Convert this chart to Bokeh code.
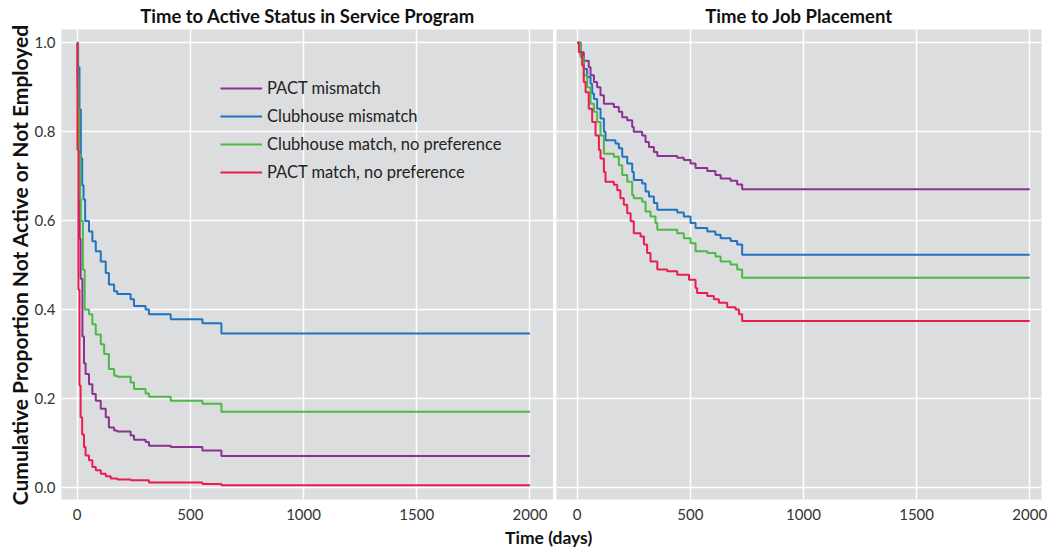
from bokeh.plotting import figure
from bokeh.layouts import column, row
from bokeh.models import FixedTicker, Range1d
from bokeh.embed import file_html
from bokeh.resources import INLINE
from bokeh.core.properties import value

# ---------------- data ----------------
TITLE_LEFT = "Time to Active Status in Service Program"
TITLE_RIGHT = "Time to Job Placement"
Y_LABEL = "Cumulative Proportion Not Active or Not Employed"
X_LABEL = "Time (days)"

SERIES_NAMES = ["PACT mismatch", "Clubhouse mismatch",
                "Clubhouse match, no preference", "PACT match, no preference"]

X_TICKS = [0, 500, 1000, 1500, 2000]
X_TICK_LABELS = ["0", "500", "1000", "1500", "2000"]
Y_TICKS = [0.0, 0.2, 0.4, 0.6, 0.8, 1.0]
Y_TICK_LABELS = ["0.0", "0.2", "0.4", "0.6", "0.8", "1.0"]

# Left panel: time to active status
active_pact_mis_t = [0, 2, 5, 8, 11, 15, 23, 30, 37, 52, 67, 82, 104, 126, 140, 163, 177, 236, 251, 302, 317, 413, 553, 637, 2000]
active_pact_mis_s = [1.0, 0.9, 0.8, 0.68, 0.56, 0.47, 0.34, 0.28, 0.256, 0.233, 0.211, 0.196, 0.178, 0.159, 0.136, 0.129, 0.127, 0.118, 0.108, 0.103, 0.095, 0.092, 0.084, 0.072, 0.072]

active_club_mis_t = [0, 4, 10, 16, 22, 28, 35, 52, 67, 82, 104, 126, 140, 163, 177, 236, 251, 302, 317, 413, 553, 637, 2000]
active_club_mis_s = [1.0, 0.945, 0.85, 0.74, 0.68, 0.648, 0.6, 0.576, 0.554, 0.532, 0.509, 0.483, 0.457, 0.442, 0.436, 0.424, 0.409, 0.401, 0.39, 0.379, 0.37, 0.347, 0.347]

active_club_match_t = [0, 2, 5, 9, 13, 16, 25, 33, 52, 67, 82, 104, 119, 140, 163, 177, 236, 251, 302, 317, 413, 553, 637, 2000]
active_club_match_s = [1.0, 0.92, 0.85, 0.75, 0.65, 0.6, 0.49, 0.401, 0.39, 0.368, 0.345, 0.323, 0.301, 0.267, 0.252, 0.25, 0.237, 0.222, 0.212, 0.205, 0.196, 0.189, 0.171, 0.171]

active_pact_match_t = [0, 1, 5, 10, 15, 22, 30, 37, 52, 67, 82, 104, 126, 148, 177, 236, 317, 553, 637, 2000]
active_pact_match_s = [1.0, 0.76, 0.446, 0.23, 0.159, 0.12, 0.092, 0.073, 0.062, 0.047, 0.04, 0.032, 0.026, 0.021, 0.019, 0.017, 0.012, 0.009, 0.006, 0.006]

# Right panel: time to job placement
job_pact_mis_t = [0, 15, 29, 51, 59, 74, 88, 103, 118, 162, 184, 199, 221, 243, 250, 287, 302, 317, 339, 354, 442, 471, 501, 523, 575, 611, 634, 678, 707, 729, 2000]
job_pact_mis_s = [1.0, 0.979, 0.96, 0.945, 0.927, 0.912, 0.9, 0.882, 0.863, 0.856, 0.845, 0.833, 0.826, 0.811, 0.8, 0.792, 0.777, 0.766, 0.755, 0.746, 0.742, 0.737, 0.729, 0.719, 0.712, 0.703, 0.695, 0.69, 0.682, 0.671, 0.671]

job_club_mis_t = [0, 15, 29, 44, 59, 66, 74, 88, 103, 118, 125, 169, 184, 199, 221, 243, 250, 287, 302, 317, 339, 354, 442, 471, 501, 523, 575, 611, 634, 678, 707, 729, 2000]
job_club_mis_s = [1.0, 0.971, 0.941, 0.923, 0.908, 0.886, 0.874, 0.852, 0.83, 0.8, 0.781, 0.774, 0.763, 0.744, 0.729, 0.71, 0.692, 0.684, 0.666, 0.655, 0.64, 0.625, 0.619, 0.61, 0.595, 0.584, 0.576, 0.569, 0.561, 0.555, 0.547, 0.524, 0.524]

job_club_match_t = [0, 15, 29, 44, 59, 74, 88, 103, 118, 162, 184, 199, 221, 243, 250, 287, 302, 324, 346, 354, 442, 471, 501, 523, 575, 611, 634, 678, 707, 729, 2000]
job_club_match_s = [1.0, 0.968, 0.927, 0.9, 0.863, 0.845, 0.822, 0.792, 0.751, 0.744, 0.725, 0.703, 0.688, 0.658, 0.651, 0.643, 0.621, 0.61, 0.595, 0.58, 0.572, 0.561, 0.55, 0.532, 0.528, 0.52, 0.509, 0.502, 0.491, 0.472, 0.472]

job_pact_match_t = [0, 7, 22, 29, 37, 51, 66, 81, 96, 103, 118, 125, 162, 177, 191, 206, 221, 236, 250, 280, 295, 309, 324, 354, 398, 442, 494, 523, 530, 575, 604, 626, 663, 700, 715, 729, 2000]
job_pact_match_s = [1.0, 0.979, 0.949, 0.912, 0.889, 0.852, 0.822, 0.792, 0.759, 0.74, 0.71, 0.688, 0.681, 0.669, 0.651, 0.636, 0.617, 0.599, 0.572, 0.565, 0.547, 0.528, 0.509, 0.491, 0.487, 0.479, 0.468, 0.449, 0.438, 0.431, 0.424, 0.416, 0.406, 0.401, 0.39, 0.375, 0.375]

COLORS = ["#8C3193", "#1F73C0", "#4DB848", "#EE1C4E"]

# ---------------- styling ----------------
FONT = "Lato"
PANEL_BG = "#DCDDDF"
TICK_COLOR = "#333333"

x_overrides = {t: l for t, l in zip(X_TICKS, X_TICK_LABELS)}
y_overrides = {t: l for t, l in zip(Y_TICKS, Y_TICK_LABELS)}


def make_panel(title, width, x_range, border_left, border_right, with_yaxis):
    p = figure(width=width, height=527,
               x_range=Range1d(*x_range), y_range=Range1d(-0.026, 1.030),
               output_backend="svg", toolbar_location=None,
               y_axis_location="left" if with_yaxis else None,
               min_border_left=border_left, min_border_right=border_right,
               min_border_top=27, min_border_bottom=28)
    p.background_fill_color = PANEL_BG
    p.border_fill_color = "white"
    p.outline_line_color = None

    p.title.text = title
    p.title.align = "center"
    p.title.text_font = FONT
    p.title.text_font_size = "18.5px"
    p.title.text_font_style = "bold"
    p.title.text_color = "#111111"
    p.title.standoff = 5

    p.xaxis.ticker = FixedTicker(ticks=X_TICKS)
    p.xaxis.major_label_overrides = x_overrides
    p.xaxis.axis_line_color = None
    p.xaxis.major_tick_line_color = None
    p.xaxis.minor_tick_line_color = None
    p.xaxis.major_tick_out = 0
    p.xaxis.major_tick_in = 0
    p.xaxis.major_label_standoff = 9
    p.xaxis.major_label_text_font = FONT
    p.xaxis.major_label_text_font_size = "15px"
    p.xaxis.major_label_text_color = TICK_COLOR

    p.xgrid.ticker = FixedTicker(ticks=X_TICKS)
    p.ygrid.ticker = FixedTicker(ticks=Y_TICKS)
    p.grid.grid_line_color = "white"
    p.grid.grid_line_width = 1.5
    p.grid.minor_grid_line_color = None

    if with_yaxis:
        p.yaxis.ticker = FixedTicker(ticks=Y_TICKS)
        p.yaxis.major_label_overrides = y_overrides
        p.yaxis.axis_line_color = None
        p.yaxis.major_tick_line_color = None
        p.yaxis.minor_tick_line_color = None
        p.yaxis.major_tick_out = 0
        p.yaxis.major_tick_in = 0
        p.yaxis.major_label_standoff = 6
        p.yaxis.major_label_text_font = FONT
        p.yaxis.major_label_text_font_size = "15px"
        p.yaxis.major_label_text_color = TICK_COLOR
        p.yaxis.axis_label = Y_LABEL
        p.yaxis.axis_label_text_font = FONT
        p.yaxis.axis_label_text_font_size = "21px"
        p.yaxis.axis_label_text_font_style = "bold"
        p.yaxis.axis_label_text_color = "#111111"
        p.yaxis.axis_label_standoff = 0
    return p


p1 = make_panel(TITLE_LEFT, 553, (-69.4, 2104), 61, 0, True)
p2 = make_panel(TITLE_RIGHT, 497, (-91.5, 2052), 3, 9, False)

left_series = [(active_pact_mis_t, active_pact_mis_s), (active_club_mis_t, active_club_mis_s),
               (active_club_match_t, active_club_match_s), (active_pact_match_t, active_pact_match_s)]
right_series = [(job_pact_mis_t, job_pact_mis_s), (job_club_mis_t, job_club_mis_s),
                (job_club_match_t, job_club_match_s), (job_pact_match_t, job_pact_match_s)]

for (t, s), name, c in zip(left_series, SERIES_NAMES, COLORS):
    p1.step(t, s, mode="after", line_color=c, line_width=2, legend_label=name)
for (t, s), c in zip(right_series, COLORS):
    p2.step(t, s, mode="after", line_color=c, line_width=2)

lg = p1.legend[0]
lg.location = (159, 317)
lg.padding = 0
lg.margin = 0
lg.spacing = 8
lg.glyph_width = 42
lg.glyph_height = 20
lg.label_height = 20
lg.label_standoff = 5
lg.label_text_font = FONT
lg.label_text_font_size = "16.5px"
lg.label_text_color = "#222222"
lg.background_fill_alpha = 0
lg.border_line_color = None

# shared x-axis label
p3 = figure(width=1050, height=25, x_range=Range1d(0, 1), y_range=Range1d(0, 1),
            output_backend="svg", toolbar_location=None,
            x_axis_location=None, y_axis_location=None, min_border=0)
p3.outline_line_color = None
p3.grid.visible = False
p3.background_fill_color = "white"
p3.text(x=[0.522], y=[0.6], text=[X_LABEL], text_align="center", text_baseline="middle",
        text_font=value(FONT), text_font_size="17.5px", text_font_style="bold", text_color="#111111")

layout = column(row(p1, p2), p3)
open("out.html", "w").write(file_html(layout, INLINE))
